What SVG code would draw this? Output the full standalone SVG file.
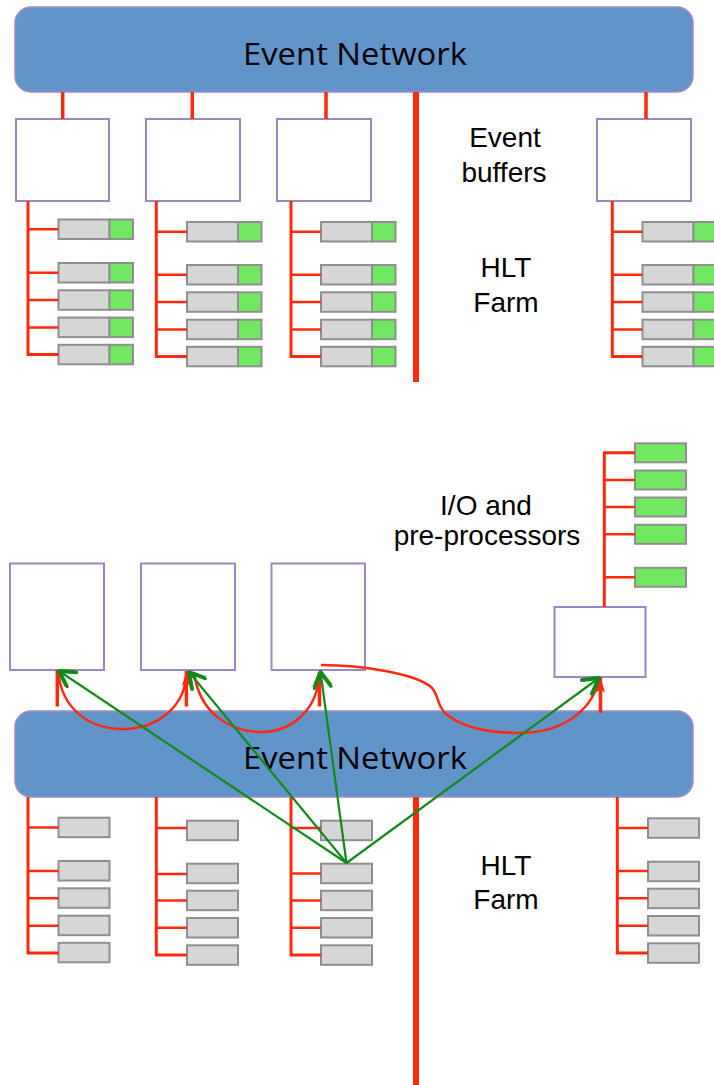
<svg xmlns="http://www.w3.org/2000/svg" width="714" height="1085" viewBox="0 0 714 1085">
  <style>
    .bar { fill: #6195c9; stroke: #a08cc4; stroke-width: 1.5; }
    .barText { font-family: "Open Sans", "DejaVu Sans", sans-serif; font-size: 31px; fill: #000; }
    .label { font-family: "Liberation Sans", Arial, sans-serif; font-size: 28px; fill: #000; text-anchor: middle; }
    .box { fill: #fff; stroke: #9d87c1; stroke-width: 2; }
    .cpu { fill: #d6d6d6; stroke: #8f8f8f; stroke-width: 2; }
    .acc { fill: #72e862; stroke: #8f8f8f; stroke-width: 2; }
    .trunk { stroke: #ff2a0d; stroke-width: 3; fill: none; }
    .branch { stroke: #ff2a0d; stroke-width: 2.5; fill: none; }
    .stub { stroke: #ff2a0d; stroke-width: 3.5; fill: none; }
    .spine { stroke: #ff2a0d; stroke-width: 6; fill: none; }
    .flow { stroke: #ff2a0d; stroke-width: 2.5; fill: none; }
    .req { stroke: #13891a; stroke-width: 2.2; fill: none; marker-end: url(#greenHead); }
  </style>
  <defs>
    <marker id="greenHead" viewBox="0 0 20 20" refX="18" refY="10" markerWidth="20" markerHeight="20" markerUnits="userSpaceOnUse" orient="auto">
      <path d="M3,1.5 L18,10 L3,18.5" fill="none" stroke="#13891a" stroke-width="4" stroke-linecap="round" stroke-linejoin="round"/>
    </marker>
    <marker id="redHead" viewBox="0 0 16 10" refX="15" refY="5" markerWidth="16" markerHeight="10" markerUnits="userSpaceOnUse" orient="auto">
      <path d="M0,0.5 L15,5 L0,9.5 L3,5 Z" fill="#ff2a0d"/>
    </marker>
  </defs>

  <!-- ===== Upper layout: event builder with buffers ===== -->
  <g id="event-network-top">
    <rect class="bar" x="15" y="7" width="678" height="85" rx="16"/>
    <text class="barText" x="243" y="65" textLength="224" lengthAdjust="spacingAndGlyphs">Event Network</text>
  </g>

  <g id="buffer-1"><rect class="box" x="16" y="119" width="93" height="82"/></g>
  <g id="buffer-2"><rect class="box" x="146" y="119" width="94" height="82"/></g>
  <g id="buffer-3"><rect class="box" x="277" y="119" width="94" height="82"/></g>
  <g id="buffer-4"><rect class="box" x="597" y="119" width="94" height="82"/></g>

  <text class="label" x="505" y="147">Event</text>
  <text class="label" x="504" y="182">buffers</text>
  <text class="label" x="506" y="277">HLT</text>
  <text class="label" x="506" y="312">Farm</text>

  <!-- farm nodes, upper layout: CPU part + accelerator part -->
  <g id="farm-top-1">
    <rect class="cpu" x="58.5" y="219.5" width="51" height="19.5"/><rect class="acc" x="109.5" y="219.5" width="23.5" height="19.5"/>
    <rect class="cpu" x="58.5" y="263" width="51" height="19.5"/><rect class="acc" x="109.5" y="263" width="23.5" height="19.5"/>
    <rect class="cpu" x="58.5" y="290.3" width="51" height="19.5"/><rect class="acc" x="109.5" y="290.3" width="23.5" height="19.5"/>
    <rect class="cpu" x="58.5" y="317.6" width="51" height="19.5"/><rect class="acc" x="109.5" y="317.6" width="23.5" height="19.5"/>
    <rect class="cpu" x="58.5" y="344.8" width="51" height="19.5"/><rect class="acc" x="109.5" y="344.8" width="23.5" height="19.5"/>
  </g>
  <g id="farm-top-2">
    <rect class="cpu" x="187" y="222" width="51" height="19.5"/><rect class="acc" x="238" y="222" width="23.5" height="19.5"/>
    <rect class="cpu" x="187" y="265" width="51" height="19.5"/><rect class="acc" x="238" y="265" width="23.5" height="19.5"/>
    <rect class="cpu" x="187" y="292.3" width="51" height="19.5"/><rect class="acc" x="238" y="292.3" width="23.5" height="19.5"/>
    <rect class="cpu" x="187" y="319.7" width="51" height="19.5"/><rect class="acc" x="238" y="319.7" width="23.5" height="19.5"/>
    <rect class="cpu" x="187" y="346.8" width="51" height="19.5"/><rect class="acc" x="238" y="346.8" width="23.5" height="19.5"/>
  </g>
  <g id="farm-top-3">
    <rect class="cpu" x="321" y="222" width="51" height="19.5"/><rect class="acc" x="372" y="222" width="23.5" height="19.5"/>
    <rect class="cpu" x="321" y="265" width="51" height="19.5"/><rect class="acc" x="372" y="265" width="23.5" height="19.5"/>
    <rect class="cpu" x="321" y="292.3" width="51" height="19.5"/><rect class="acc" x="372" y="292.3" width="23.5" height="19.5"/>
    <rect class="cpu" x="321" y="319.7" width="51" height="19.5"/><rect class="acc" x="372" y="319.7" width="23.5" height="19.5"/>
    <rect class="cpu" x="321" y="346.8" width="51" height="19.5"/><rect class="acc" x="372" y="346.8" width="23.5" height="19.5"/>
  </g>
  <g id="farm-top-4">
    <rect class="cpu" x="642.5" y="222" width="51" height="19.5"/><rect class="acc" x="693.5" y="222" width="23.5" height="19.5"/>
    <rect class="cpu" x="642.5" y="265" width="51" height="19.5"/><rect class="acc" x="693.5" y="265" width="23.5" height="19.5"/>
    <rect class="cpu" x="642.5" y="292.3" width="51" height="19.5"/><rect class="acc" x="693.5" y="292.3" width="23.5" height="19.5"/>
    <rect class="cpu" x="642.5" y="319.7" width="51" height="19.5"/><rect class="acc" x="693.5" y="319.7" width="23.5" height="19.5"/>
    <rect class="cpu" x="642.5" y="346.8" width="51" height="19.5"/><rect class="acc" x="693.5" y="346.8" width="23.5" height="19.5"/>
  </g>

  <g id="connectors-top">
    <line class="stub" x1="62.7" y1="92" x2="62.7" y2="119"/>
    <line class="stub" x1="192.3" y1="92" x2="192.3" y2="119"/>
    <line class="stub" x1="326" y1="92" x2="326" y2="119"/>
    <line class="stub" x1="646" y1="92" x2="646" y2="119"/>
    <line class="spine" x1="416" y1="92" x2="416" y2="382"/>
    <!-- farm trunks and branches -->
    <path class="trunk" d="M28,201 V354.5 H58.5"/>
    <path class="branch" d="M28,229.3 H58.5 M28,272.7 H58.5 M28,300 H58.5 M28,327.4 H58.5"/>
    <path class="trunk" d="M156.3,201 V356.5 H187"/>
    <path class="branch" d="M156.3,231.7 H187 M156.3,274.8 H187 M156.3,302 H187 M156.3,329.5 H187"/>
    <path class="trunk" d="M291,201 V356.5 H321"/>
    <path class="branch" d="M291,231.7 H321 M291,274.8 H321 M291,302 H321 M291,329.5 H321"/>
    <path class="trunk" d="M612.3,201 V356.5 H642.5"/>
    <path class="branch" d="M612.3,231.7 H642.5 M612.3,274.8 H642.5 M612.3,302 H642.5 M612.3,329.5 H642.5"/>
  </g>

  <!-- ===== Lower layout: I/O nodes with pre-processors ===== -->
  <text class="label" x="486" y="515">I/O and</text>
  <text class="label" x="487" y="545">pre-processors</text>

  <g id="io-1"><rect class="box" x="10" y="563.5" width="94" height="106.5"/></g>
  <g id="io-2"><rect class="box" x="141" y="563.5" width="94" height="106.5"/></g>
  <g id="io-3"><rect class="box" x="271.5" y="563.5" width="93.5" height="106.5"/></g>
  <g id="io-4"><rect class="box" x="554.5" y="607" width="91" height="70"/></g>

  <g id="preprocessors">
    <rect class="acc" x="635" y="443.3" width="51" height="19"/>
    <rect class="acc" x="635" y="470.5" width="51" height="19"/>
    <rect class="acc" x="635" y="497.5" width="51" height="19"/>
    <rect class="acc" x="635" y="524.8" width="51" height="19"/>
    <rect class="acc" x="635" y="567.8" width="51" height="19"/>
  </g>

  <g id="event-network-bottom">
    <rect class="bar" x="15" y="711" width="678" height="86" rx="16"/>
    <text class="barText" x="243" y="769" textLength="224" lengthAdjust="spacingAndGlyphs">Event Network</text>
  </g>

  <text class="label" x="506" y="875">HLT</text>
  <text class="label" x="506" y="909">Farm</text>

  <g id="farm-bottom-1">
    <rect class="cpu" x="58.5" y="817.7" width="51" height="19.5"/>
    <rect class="cpu" x="58.5" y="861" width="51" height="19.5"/>
    <rect class="cpu" x="58.5" y="888.3" width="51" height="19.5"/>
    <rect class="cpu" x="58.5" y="915.7" width="51" height="19.5"/>
    <rect class="cpu" x="58.5" y="942.8" width="51" height="19.5"/>
  </g>
  <g id="farm-bottom-2">
    <rect class="cpu" x="187" y="820.7" width="51" height="19.5"/>
    <rect class="cpu" x="187" y="863.7" width="51" height="19.5"/>
    <rect class="cpu" x="187" y="890.7" width="51" height="19.5"/>
    <rect class="cpu" x="187" y="918" width="51" height="19.5"/>
    <rect class="cpu" x="187" y="945.3" width="51" height="19.5"/>
  </g>
  <g id="farm-bottom-3">
    <rect class="cpu" x="321" y="820.7" width="51" height="19.5"/>
    <rect class="cpu" x="321" y="863.7" width="51" height="19.5"/>
    <rect class="cpu" x="321" y="890.7" width="51" height="19.5"/>
    <rect class="cpu" x="321" y="918" width="51" height="19.5"/>
    <rect class="cpu" x="321" y="945.3" width="51" height="19.5"/>
  </g>
  <g id="farm-bottom-4">
    <rect class="cpu" x="648" y="818.3" width="51" height="19.5"/>
    <rect class="cpu" x="648" y="861.7" width="51" height="19.5"/>
    <rect class="cpu" x="648" y="888.7" width="51" height="19.5"/>
    <rect class="cpu" x="648" y="916" width="51" height="19.5"/>
    <rect class="cpu" x="648" y="943.3" width="51" height="19.5"/>
  </g>

  <g id="connectors-bottom">
    <!-- pre-processor chain above the small I/O node -->
    <path class="trunk" d="M604.3,607 V452.8 H635"/>
    <path class="branch" d="M604.3,480 H635 M604.3,507 H635 M604.3,534.3 H635 M604.3,577.3 H635"/>
    <!-- links from the network up to the I/O nodes -->
    <line class="stub" x1="57.3" y1="706.5" x2="57.3" y2="670"/>
    <line class="stub" x1="186.4" y1="706.5" x2="186.4" y2="671" marker-end="url(#redHead)"/>
    <line class="stub" x1="319.5" y1="706.5" x2="319.5" y2="672" marker-end="url(#redHead)"/>
    <line class="stub" x1="600.5" y1="713" x2="600.5" y2="677.5" marker-end="url(#redHead)"/>
    <!-- data hand-off between I/O nodes -->
    <path class="flow" d="M58,671 C62,712 92,729 123,729 C156,729 183,708 186,678"/>
    <path class="flow" d="M194,672 C199,713 230,732 261,732 C292,732 316,710 319,678"/>
    <path class="flow" d="M321,665 C362,665 418,674 432,688 C439,696 437,705 445,713 C463,729 493,733 520,733 C556,733 590,716 599,680"/>
    <!-- farm trunks below the network -->
    <line class="spine" x1="416" y1="797" x2="416" y2="1085"/>
    <path class="trunk" d="M28,797 V953 H58.5"/>
    <path class="branch" d="M28,827.5 H58.5 M28,871 H58.5 M28,898.3 H58.5 M28,925.7 H58.5"/>
    <path class="trunk" d="M156.3,797 V955 H187"/>
    <path class="branch" d="M156.3,828 H187 M156.3,874 H187 M156.3,900.5 H187 M156.3,927.7 H187"/>
    <path class="trunk" d="M291,797 V955 H321"/>
    <path class="branch" d="M291,828 H321 M291,873.5 H321 M291,900.5 H321 M291,927.7 H321"/>
    <path class="trunk" d="M617.3,797 V953 H648"/>
    <path class="branch" d="M617.3,828 H648 M617.3,871 H648 M617.3,898.3 H648 M617.3,925.7 H648"/>
    <!-- requests from one farm node to every I/O node -->
    <line class="req" x1="346.5" y1="863" x2="59" y2="671"/>
    <line class="req" x1="346.5" y1="863" x2="189" y2="672"/>
    <line class="req" x1="346.5" y1="863" x2="320.5" y2="672"/>
    <line class="req" x1="346.5" y1="863" x2="599" y2="678"/>
  </g>
</svg>
